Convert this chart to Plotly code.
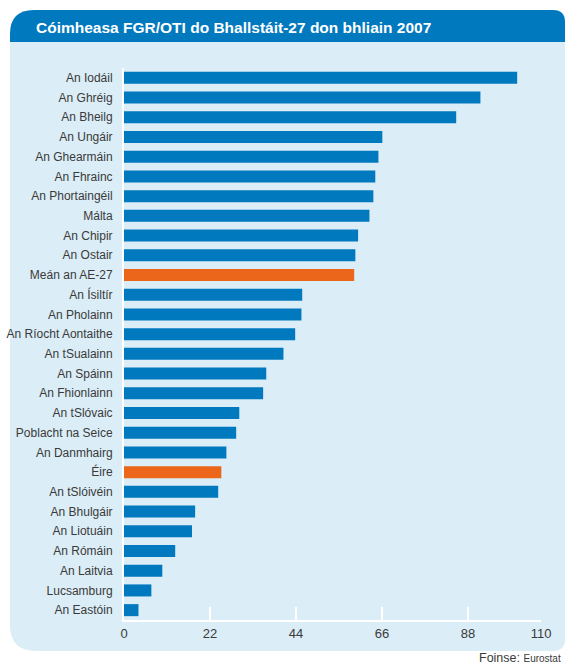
import plotly.graph_objects as go

countries = [
    "An Iodáil", "An Ghréig", "An Bheilg", "An Ungáir", "An Ghearmáin",
    "An Fhrainc", "An Phortaingéil", "Málta", "An Chipir", "An Ostair",
    "Meán an AE-27", "An Ísiltír", "An Pholainn", "An Ríocht Aontaithe",
    "An tSualainn", "An Spáinn", "An Fhionlainn", "An tSlóvaic",
    "Poblacht na Seice", "An Danmhairg", "Éire", "An tSlóivéin",
    "An Bhulgáir", "An Liotuáin", "An Rómáin", "An Laitvia", "Lucsamburg",
    "An Eastóin",
]
debt_ratio = [
    100.6, 91.2, 85.0, 66.1, 65.1, 64.3, 63.8, 62.8, 59.9, 59.2,
    58.9, 45.6, 45.4, 43.8, 40.8, 36.4, 35.6, 29.5, 28.7, 26.2,
    24.9, 24.1, 18.2, 17.4, 13.1, 9.8, 7.0, 3.7,
]
highlight = ["Meán an AE-27", "Éire"]
tick_vals = [0, 22, 44, 66, 88, 106.7]
tick_text = ["0", "22", "44", "66", "88", "110"]

BLUE = "#0079be"
ORANGE = "#eb661b"
PANEL = "#dbedf6"
TEXT = "#3a3a3a"
FONT = "Liberation Sans, Arial, sans-serif"

W, H = 565, 666
L, R, T, B = 124, 24, 68, 46
PW, PH = W - L - R, H - T - B


def px(x, y):
    # pixel position -> paper coordinates
    return (x - L) / PW, (H - B - y) / PH


def rounded_rect(x0, y0, x1, y1, rtl, rtr, rbr, rbl):
    def p(x, y):
        a, b = px(x, y)
        return f"{a:.5f},{b:.5f}"

    path = f"M {p(x0 + rtl, y0)} L {p(x1 - rtr, y0)} "
    path += f"Q {p(x1, y0)} {p(x1, y0 + rtr)} " if rtr else ""
    path += f"L {p(x1, y1 - rbr)} "
    path += f"Q {p(x1, y1)} {p(x1 - rbr, y1)} " if rbr else ""
    path += f"L {p(x0 + rbl, y1)} "
    path += f"Q {p(x0, y1)} {p(x0, y1 - rbl)} " if rbl else ""
    path += f"L {p(x0, y0 + rtl)} "
    path += f"Q {p(x0, y0)} {p(x0 + rtl, y0)} " if rtl else ""
    return path + "Z"


colors = [ORANGE if c in highlight else BLUE for c in countries]

fig = go.Figure(
    go.Bar(
        x=debt_ratio,
        y=countries,
        orientation="h",
        marker=dict(color=colors, line=dict(width=0)),
        width=0.61,
        hoverinfo="x+y",
    )
)

fig.update_layout(
    width=W,
    height=H,
    margin=dict(l=L, r=R, t=T, b=B, autoexpand=False),
    paper_bgcolor="white",
    plot_bgcolor="rgba(0,0,0,0)",
    font=dict(family=FONT, size=12, color=TEXT),
    showlegend=False,
    shapes=[
        dict(type="path", xref="paper", yref="paper", layer="below",
             path=rounded_rect(10, 10, 565, 651, 24, 12, 12, 26),
             fillcolor=PANEL, line=dict(width=0)),
        dict(type="path", xref="paper", yref="paper", layer="below",
             path=rounded_rect(10, 10, 565, 42, 24, 12, 0, 0),
             fillcolor=BLUE, line=dict(width=0)),
    ],
    annotations=[
        dict(text="<b>Cóimheasa FGR/OTI do Bhallstáit-27 don bhliain 2007</b>",
             xref="paper", yref="paper", x=px(34, 0)[0], y=px(0, 27)[1],
             xanchor="left", yanchor="middle", showarrow=False,
             font=dict(family=FONT, size=15.5, color="white")),
        dict(text="Foinse: <span style='font-size:10px'>Eurostat</span>",
             xref="paper", yref="paper", x=px(563, 0)[0], y=px(0, 658)[1],
             xanchor="right", yanchor="middle", showarrow=False,
             font=dict(family=FONT, size=12.5, color=TEXT)),
    ],
)

fig.update_xaxes(
    range=[0, 106.7],
    tickvals=tick_vals,
    ticktext=tick_text,
    showgrid=False,
    zeroline=False,
    showline=True,
    linecolor="white",
    linewidth=2,
    ticks="inside",
    ticklen=13,
    tickwidth=2,
    tickcolor="white",
    tickfont=dict(size=13, color=TEXT),
    automargin=False,
    fixedrange=True,
)
fig.update_yaxes(
    autorange="reversed",
    showgrid=False,
    zeroline=False,
    showline=True,
    linecolor="white",
    linewidth=2,
    ticks="",
    ticklabelstandoff=7,
    tickfont=dict(size=12, color=TEXT),
    automargin=False,
    fixedrange=True,
)

# drop the default page margin so the figure sits at the window's corner
fig.write_html(
    "out.html",
    config={"displayModeBar": False},
    post_script="document.body.style.margin='0';",
)
